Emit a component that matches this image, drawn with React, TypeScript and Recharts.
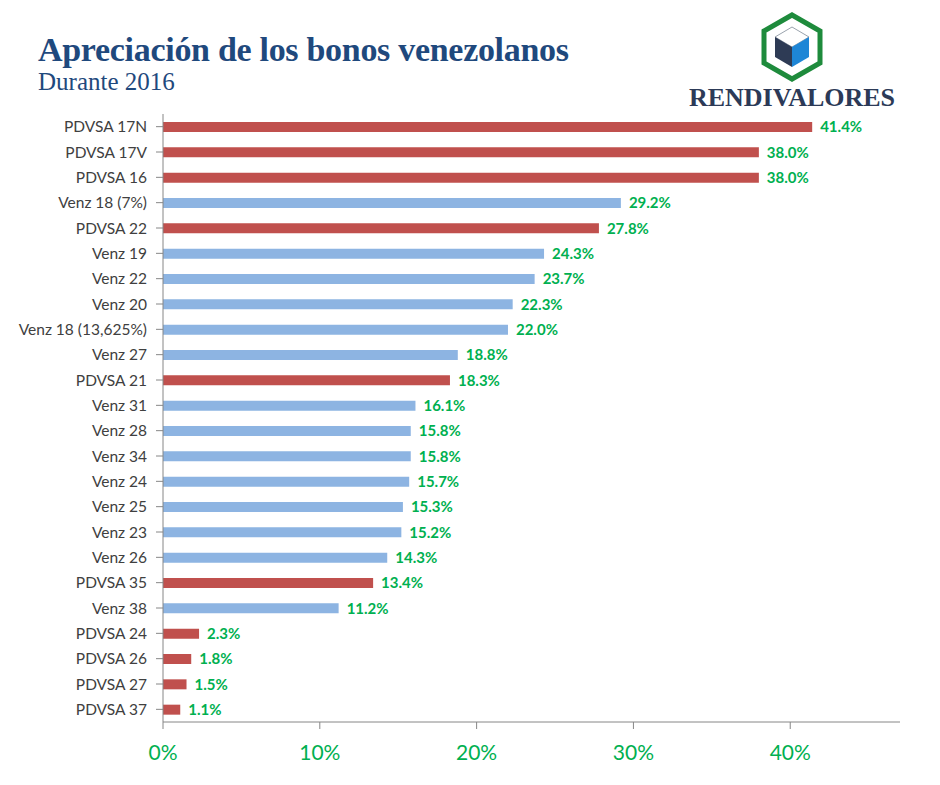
import React from "react";
import { BarChart, Bar, XAxis, YAxis, Cell, LabelList } from "recharts";

const categories = [
  "PDVSA 17N", "PDVSA 17V", "PDVSA 16", "Venz 18 (7%)", "PDVSA 22", "Venz 19",
  "Venz 22", "Venz 20", "Venz 18 (13,625%)", "Venz 27", "PDVSA 21", "Venz 31",
  "Venz 28", "Venz 34", "Venz 24", "Venz 25", "Venz 23", "Venz 26",
  "PDVSA 35", "Venz 38", "PDVSA 24", "PDVSA 26", "PDVSA 27", "PDVSA 37",
];
const appreciation = [
  41.4, 38.0, 38.0, 29.2, 27.8, 24.3,
  23.7, 22.3, 22.0, 18.8, 18.3, 16.1,
  15.8, 15.8, 15.7, 15.3, 15.2, 14.3,
  13.4, 11.2, 2.3, 1.8, 1.5, 1.1,
];
const issuers = [
  "PDVSA", "PDVSA", "PDVSA", "Venz", "PDVSA", "Venz",
  "Venz", "Venz", "Venz", "Venz", "PDVSA", "Venz",
  "Venz", "Venz", "Venz", "Venz", "Venz", "Venz",
  "PDVSA", "Venz", "PDVSA", "PDVSA", "PDVSA", "PDVSA",
];
const xTicks = [0, 10, 20, 30, 40];

const issuerColors: Record<string, string> = { PDVSA: "#C0504D", Venz: "#8DB4E2" };

const data = categories.map((name, i) => ({ name, value: appreciation[i], issuer: issuers[i] }));

const FONT = "Lato, 'Open Sans', sans-serif";

function Logo() {
  return (
    <svg width={240} height={120} style={{ position: "absolute", left: 672, top: 0 }}>
      <g transform="translate(120,47)">
        <polygon points="0,-32 28,-16 28,16 0,32 -28,16 -28,-16" fill="#ffffff" stroke="#1E8B3C" strokeWidth={5} />
        <polygon points="0,-20 17,-10 0,0 -17,-10" fill="#ffffff" stroke="#9aa3ad" strokeWidth={1} />
        <polygon points="-17,-10 0,0 0,20 -17,10" fill="#2E3B55" />
        <polygon points="17,-10 0,0 0,20 17,10" fill="#1E86D6" />
      </g>
      <text x={120} y={106} textAnchor="middle" fontFamily="'Liberation Serif', serif" fontWeight="bold" fontSize={26} fill="#2C3A57">
        RENDIVALORES
      </text>
    </svg>
  );
}

export default function App() {
  return (
    <div style={{ position: "absolute", left: 0, top: 0, width: 940, height: 785, background: "#fff" }}>
      <div style={{ position: "absolute", left: 38, top: 33, fontFamily: "'Liberation Serif', serif", fontWeight: "bold", fontSize: 34, letterSpacing: -0.3, color: "#1F497D", whiteSpace: "nowrap", lineHeight: 1 }}>
        Apreciación de los bonos venezolanos
      </div>
      <div style={{ position: "absolute", left: 38, top: 69, fontFamily: "'Liberation Serif', serif", fontSize: 25, color: "#1F497D", whiteSpace: "nowrap", lineHeight: 1 }}>
        Durante 2016
      </div>
      <Logo />
      <div style={{ position: "absolute", left: 0, top: 0 }}>
        <BarChart
          width={940}
          height={785}
          data={data}
          layout="vertical"
          margin={{ top: 114, right: 40, bottom: 0, left: 0 }}
          barCategoryGap={0}
        >
          <XAxis
            type="number"
            domain={[0, 47]}
            ticks={xTicks}
            allowDataOverflow
            tickFormatter={(v: number) => `${v}%`}
            height={63}
            stroke="#868686"
            tickSize={7}
            tickMargin={16}
            tick={{ fill: "#00B050", fontSize: 21, fontFamily: FONT }}
          />
          <YAxis
            type="category"
            dataKey="name"
            width={163}
            stroke="#868686"
            tickSize={7}
            tickMargin={9}
            interval={0}
            tick={{ fill: "#404040", fontSize: 15.5, fontFamily: FONT }}
          />
          <Bar dataKey="value" barSize={10} isAnimationActive={false}>
            {data.map((d, i) => (
              <Cell key={i} fill={issuerColors[d.issuer]} />
            ))}
            <LabelList
              dataKey="value"
              position="right"
              offset={8}
              formatter={(v: number) => `${v.toFixed(1)}%`}
              style={{ fill: "#00B050", fontSize: 15, fontWeight: "bold", fontFamily: FONT }}
            />
          </Bar>
        </BarChart>
      </div>
    </div>
  );
}
